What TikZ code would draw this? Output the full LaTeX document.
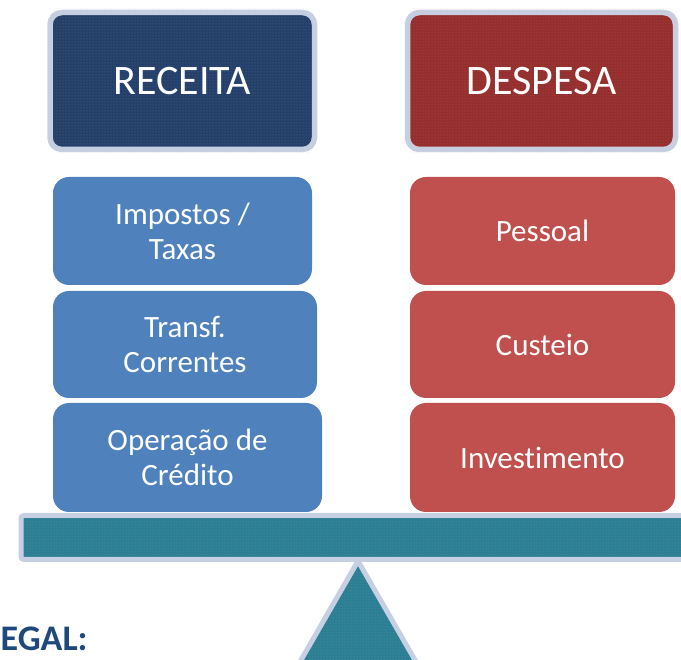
\documentclass[tikz,border=0pt]{standalone}
\usepackage{fontspec}
\setmainfont{Carlito}[Ligatures=CommonOff]
\usetikzlibrary{patterns}
\definecolor{navyA}{HTML}{24406A}
\definecolor{navyDot}{HTML}{8FA5C4}
\definecolor{wineA}{HTML}{952F2E}
\definecolor{wineDot}{HTML}{D88C8A}
\definecolor{tealA}{HTML}{2C7E93}
\definecolor{tealDot}{HTML}{8CC4D2}
\definecolor{glow}{HTML}{C7D0E2}
\definecolor{blueBox}{HTML}{4F81BD}
\definecolor{redBox}{HTML}{C0504D}
\definecolor{legalBlue}{HTML}{1F497D}
\tikzset{
  header/.style={rectangle, rounded corners=12pt, draw=glow, line width=5.5pt,
    inner sep=0pt, minimum height=137pt},
  headtext/.style={text=white, font=\fontsize{42}{48}\selectfont},
  itembox/.style={rectangle, rounded corners=16pt, text=white, inner sep=0pt,
    align=center, font=\fontsize{31}{35}\selectfont},
  texture/.style={pattern=dots, pattern color=#1},
}
\begin{document}
\begin{tikzpicture}[x=1pt,y=-1pt]
\useasboundingbox (0,0) rectangle (681,660);
\clip (0,0) rectangle (681,660);
% header boxes
\node[header, fill=navyA, minimum width=264.5pt] (rec) at (182.25,81) {};
\fill[texture=navyDot, rounded corners=10pt, opacity=0.4] ([shift={(3,-3)}]rec.north west) rectangle ([shift={(-3,3)}]rec.south east);
\node[headtext] (rect) at (rec.center) {RECEITA};
\node[header, fill=wineA, minimum width=268pt] (des) at (541.5,81) {};
\fill[texture=wineDot, rounded corners=10pt, opacity=0.4] ([shift={(3,-3)}]des.north west) rectangle ([shift={(-3,3)}]des.south east);
\node[headtext] (dest) at (des.center) {DESPESA};
% receita items
\node[itembox, fill=blueBox, minimum width=259pt, minimum height=108pt] (imp) at (182.5,231) {Impostos /\\Taxas};
\node[itembox, fill=blueBox, minimum width=264pt, minimum height=107pt] (tra) at (185,344.5) {Transf.\\Correntes};
\node[itembox, fill=blueBox, minimum width=269pt, minimum height=109pt] (ope) at (187.5,457.5) {Operação de\\Crédito};
% despesa items
\node[itembox, fill=redBox, minimum width=265pt, minimum height=108pt] (pes) at (542.5,231) {Pessoal};
\node[itembox, fill=redBox, minimum width=265pt, minimum height=107pt] (cus) at (542.5,344.5) {Custeio};
\node[itembox, fill=redBox, minimum width=265pt, minimum height=109pt] (inv) at (542.5,457.5) {Investimento};
% beam
\draw[draw=glow, line width=5pt, fill=tealA, rounded corners=3pt] (21,515.5) rectangle (700,559.5);
\fill[texture=tealDot, opacity=0.45] (24,518) rectangle (700,557);
% fulcrum
\draw[draw=glow, line width=5pt, line join=round, fill=tealA] (358,561) -- (438,700) -- (278,700) -- cycle;
\fill[texture=tealDot, opacity=0.45] (358,566) -- (435,700) -- (281,700) -- cycle;
% label
\node[anchor=base west, text=legalBlue, font=\bfseries\fontsize{36}{40}\selectfont, inner sep=0pt] (legal) at (0.5,650) {EGAL:};
\end{tikzpicture}
\end{document}
